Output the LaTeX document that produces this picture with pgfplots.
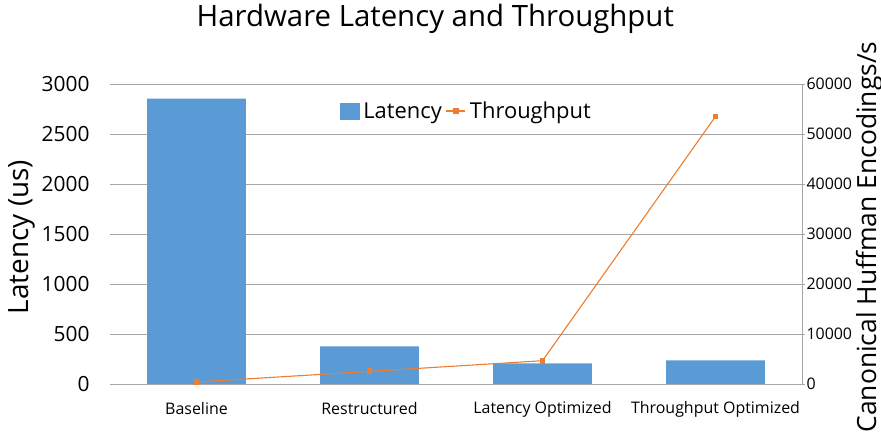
\documentclass[border=0pt]{standalone}
\usepackage{fontspec}
\setmainfont{Open Sans}
\usepackage{pgfplots}
\pgfplotsset{compat=1.18}
\definecolor{barblue}{HTML}{5B9BD5}
\definecolor{lineorange}{HTML}{ED7D31}
\definecolor{gridgray}{HTML}{A6A6A6}

\begin{document}
\begin{tikzpicture}
% latency bars, left axis
\begin{axis}[
    name=ax,
    scale only axis,
    width=692bp, height=300bp,
    xmin=-0.5, xmax=3.5,
    ymin=0, ymax=3000,
    ytick={0,500,...,3000},
    xtick={0,1,2,3},
    xticklabels={Baseline,Restructured,Latency Optimized,Throughput Optimized},
    x tick label style={font=\fontsize{16}{18}\selectfont, anchor=center, yshift=-25bp},
    y tick label style={font=\fontsize{21}{23}\selectfont, anchor=east, xshift=-17bp},
    /pgf/number format/assume math mode=true,
    /pgf/number format/1000 sep={},
    axis y line*=left,
    axis x line*=bottom,
    y axis line style={draw=none},
    x axis line style={draw=gridgray},
    major tick length=0pt,
    ymajorgrids=true,
    grid style={gridgray, line width=0.8pt},
    ylabel={Latency (us)},
    ylabel style={font=\fontsize{28}{30}\selectfont, at={(axis description cs:-0.127,0.49)}, anchor=center},
    title={Hardware Latency and Throughput},
    title style={font=\fontsize{29.5}{31}\selectfont, at={(axis description cs:0.47,1)}, anchor=center, yshift=59bp},
    ybar, bar width=0.57,
]
\addplot[fill=barblue, draw=none] coordinates {
    (0,2853) (1,376) (2,206) (3,236)
};
\end{axis}
% throughput line, right axis
\begin{axis}[
    scale only axis,
    width=692bp, height=300bp,
    xmin=-0.5, xmax=3.5,
    ymin=0, ymax=60000,
    ytick={0,10000,...,60000},
    scaled y ticks=false,
    /pgf/number format/assume math mode=true,
    /pgf/number format/1000 sep={},
    axis y line*=right,
    axis x line=none,
    y axis line style={draw=gridgray, line width=0.8pt},
    ytick style={draw=gridgray, line width=0.8pt},
    tick align=outside,
    major tick length=3bp,
    y tick label style={font=\fontsize{16}{18}\selectfont, anchor=west, xshift=-2bp},
    ylabel={Canonical Huffman Encodings/s},
    ylabel style={font=\fontsize{26.5}{28}\selectfont, at={(axis description cs:1.097,0.49)}, anchor=center},
    legend style={draw=none, fill=none, at={(0.515,0.91)}, anchor=center,
        font=\fontsize{22}{24}\selectfont, column sep=2bp},
    legend columns=2,
    legend image code/.code={},
]
\addlegendimage{legend image code/.code={\fill[barblue] (0bp,-8bp) rectangle (19bp,8bp);}}
\addlegendentry{Latency}
\addplot[lineorange, line width=1.1pt, mark=square*, mark size=2.4bp,
    legend image code/.code={
        \draw[lineorange, line width=1.1pt] (0bp,0bp) -- (19bp,0bp);
        \fill[lineorange] (7.1bp,-2.4bp) rectangle (11.9bp,2.4bp);}]
    coordinates {
    (0,400) (1,2520) (2,4660) (3,53500)
};
\addlegendentry{Throughput}
\end{axis}
\pgfresetboundingbox
\path ([shift={(-110bp,-50bp)}]ax.south west) rectangle ([shift={(79bp,84bp)}]ax.north east);
\end{tikzpicture}
\end{document}
